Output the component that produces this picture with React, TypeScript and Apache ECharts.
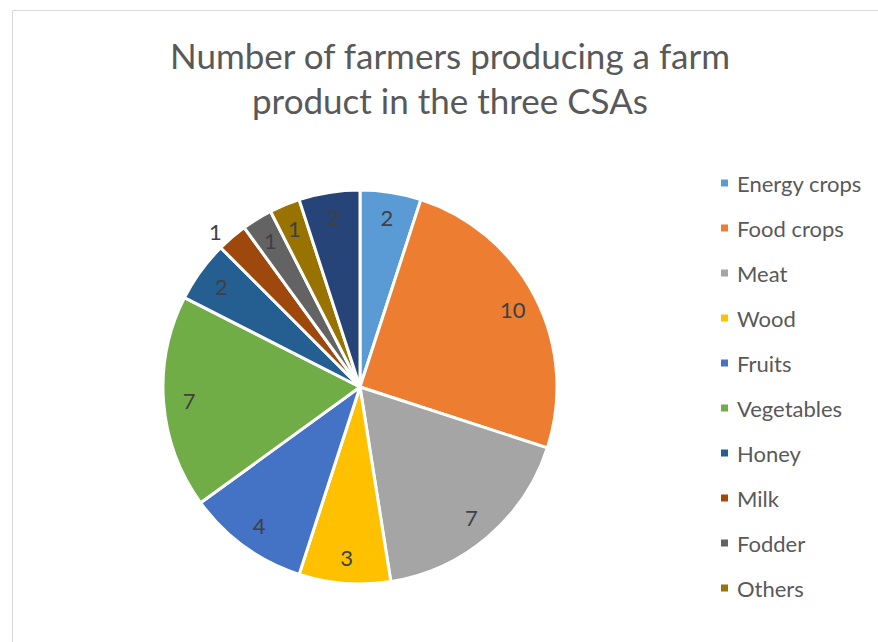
import React, { useEffect, useRef } from "react";
import * as echarts from "echarts";

const categories = [
  "Energy crops",
  "Food crops",
  "Meat",
  "Wood",
  "Fruits",
  "Vegetables",
  "Honey",
  "Milk",
  "Fodder",
  "Others",
  "Other",
];
const values = [2, 10, 7, 3, 4, 7, 2, 1, 1, 1, 2];
const colors = [
  "#5B9BD5",
  "#ED7D31",
  "#A5A5A5",
  "#FFC000",
  "#4472C4",
  "#70AD47",
  "#255E91",
  "#9E480E",
  "#636363",
  "#997300",
  "#264478",
];
const legendNames = categories.slice(0, 10);
const outsideLabels = ["Milk"];

const FONT = "Lato, 'Noto Sans', sans-serif";

export default function App() {
  const ref = useRef<HTMLDivElement>(null);
  useEffect(() => {
    if (!ref.current) return;
    const chart = echarts.init(ref.current, null, { renderer: "svg" });
    const pieData = categories.map((name, i) => ({
      name,
      value: values[i],
      itemStyle: { color: colors[i] },
    }));
    const labelData = categories.map((name, i) => {
      const outside = outsideLabels.includes(name);
      return {
        name,
        value: values[i],
        label: outside
          ? { position: "outside", show: true }
          : { position: "inside", show: true },
        labelLine: { show: false, length: 8, length2: 0 },
      };
    });
    chart.setOption({
      animation: false,
      backgroundColor: "#ffffff",
      color: colors,
      title: {
        text: "Number of farmers producing a farm\nproduct in the three CSAs",
        left: 445,
        top: 27,
        textAlign: "center",
        textStyle: {
          fontFamily: FONT,
          fontSize: 35,
          fontWeight: "normal",
          color: "#595959",
          lineHeight: 45,
        },
      },
      legend: {
        orient: "vertical",
        left: 719,
        top: 171,
        padding: 0,
        data: legendNames,
        icon: "rect",
        itemWidth: 9,
        itemHeight: 9,
        itemGap: 21,
        selectedMode: false,
        textStyle: {
          fontFamily: FONT,
          fontSize: 22,
          color: "#595959",
          lineHeight: 24,
          padding: [0, 0, 0, 3],
        },
      },
      graphic: [
        {
          type: "rect",
          shape: { x: 12.5, y: 10.5, width: 1000, height: 800 },
          style: { fill: "none", stroke: "#d9d9d9", lineWidth: 1 },
          silent: true,
        },
      ],
      series: [
        {
          type: "pie",
          center: [360, 387],
          radius: 197,
          startAngle: 90,
          clockwise: true,
          data: pieData,
          label: { show: false },
          labelLine: { show: false },
          itemStyle: { borderColor: "#ffffff", borderWidth: 3 },
          emphasis: { disabled: true },
        },
        {
          type: "pie",
          center: [360, 387],
          radius: [140, 197],
          startAngle: 90,
          clockwise: true,
          silent: true,
          data: labelData,
          itemStyle: { color: "rgba(0,0,0,0)" },
          avoidLabelOverlap: false,
          label: {
            show: true,
            formatter: "{c}",
            fontFamily: FONT,
            fontSize: 22,
            color: "#404040",
          },
          emphasis: { disabled: true },
        },
      ],
    });
    return () => chart.dispose();
  }, []);
  return (
    <div
      ref={ref}
      style={{ position: "absolute", left: 0, top: 0, width: 878, height: 642 }}
    />
  );
}
